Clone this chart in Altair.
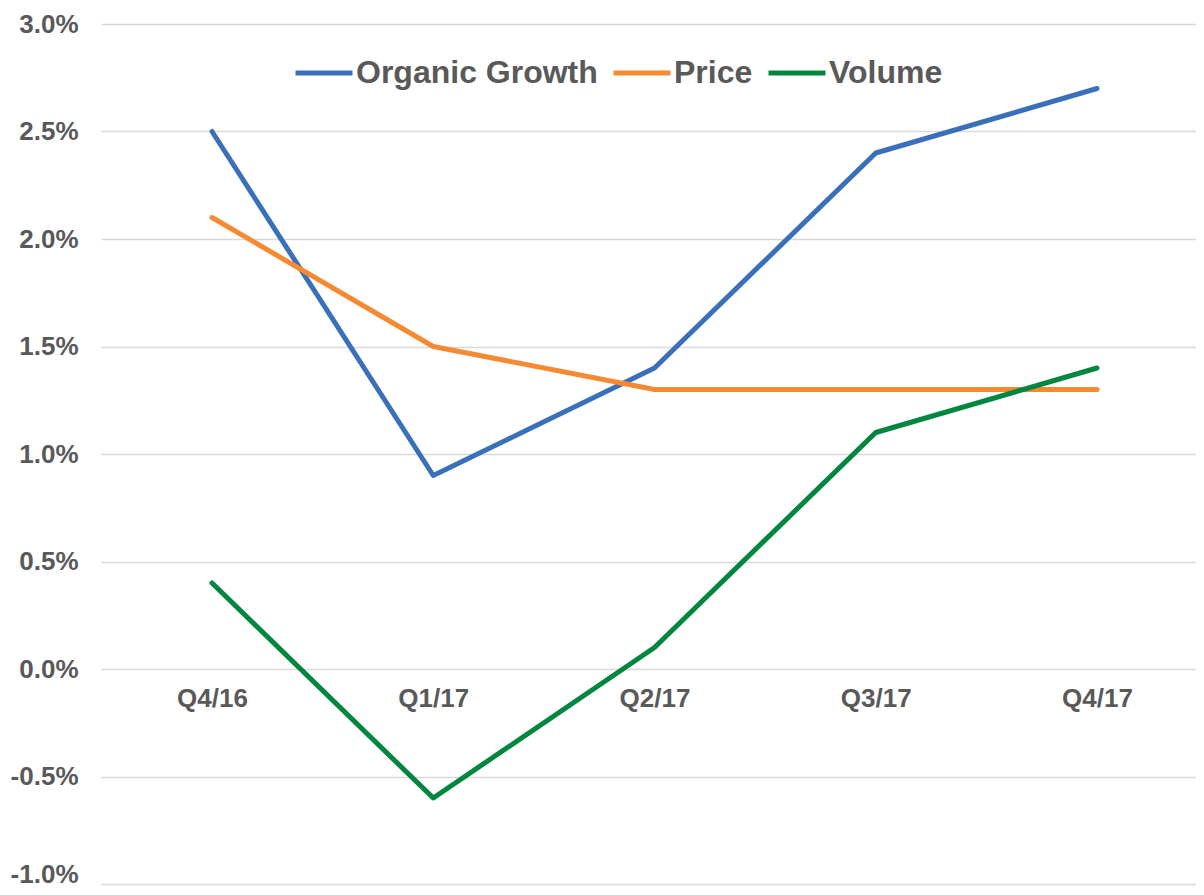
import altair as alt
import pandas as pd

quarters = ["Q4/16", "Q1/17", "Q2/17", "Q3/17", "Q4/17"]
organic_growth = [2.5, 0.9, 1.4, 2.4, 2.7]
price = [2.1, 1.5, 1.3, 1.3, 1.3]
volume = [0.4, -0.6, 0.1, 1.1, 1.4]
series_names = ["Organic Growth", "Price", "Volume"]
series_colors = ["#3A70BA", "#F68A33", "#00863E"]
y_ticks = [-1.0, -0.5, 0.0, 0.5, 1.0, 1.5, 2.0, 2.5, 3.0]

rows = []
for name, vals in zip(series_names, [organic_growth, price, volume]):
    for q, v in zip(quarters, vals):
        rows.append({"quarter": q, "series": name, "value": v / 100})
df = pd.DataFrame(rows)

FONT = "Liberation Sans"
GREY = "#595959"

chart = (
    alt.Chart(df)
    .mark_line(strokeWidth=5, strokeCap="round", strokeJoin="round")
    .encode(
        x=alt.X(
            "quarter:N",
            sort=quarters,
            scale=alt.Scale(type="point", padding=0.4746, align=0.5286),
            axis=alt.Axis(
                title=None, domain=False, ticks=False, grid=False,
                labelFont=FONT, labelFontSize=26, labelFontWeight="bold",
                labelColor=GREY, labelPadding=16, offset=-215, labelAngle=0,
            ),
        ),
        y=alt.Y(
            "value:Q",
            scale=alt.Scale(domain=[-0.01, 0.03], nice=False, zero=False),
            axis=alt.Axis(
                title=None, format=".1%", values=[t / 100 for t in y_ticks],
                labelExpr="replace(datum.label, '\u2212', '-')",
                domain=False, ticks=False, grid=True, gridColor="#D9D9D9",
                gridWidth=1.5, labelFont=FONT, labelFontSize=26,
                labelFontWeight="bold", labelColor=GREY, labelPadding=23,
                labelOffset={"condition": {"test": "datum.value < -0.009", "value": -10}, "value": 0},
            ),
        ),
        color=alt.Color(
            "series:N",
            sort=series_names,
            scale=alt.Scale(domain=series_names, range=series_colors),
            legend=alt.Legend(
                title=None, orient="none", direction="horizontal",
                legendX=192, legendY=18, symbolType="stroke",
                symbolSize=3249, symbolStrokeWidth=5, labelFont=FONT,
                labelFontSize=32, labelFontWeight="bold", labelColor=GREY,
                labelOffset=1, columnPadding=5, labelLimit=500,
            ),
        ),
    )
    .properties(
        width=1095,
        height=860,
        autosize=alt.AutoSizeParams(type="none"),
        padding={"left": 93, "top": 16, "right": 0, "bottom": 3},
    )
    .configure_view(stroke=None)
)

chart.save("out.html", embed_options={"renderer": "svg", "actions": False})
